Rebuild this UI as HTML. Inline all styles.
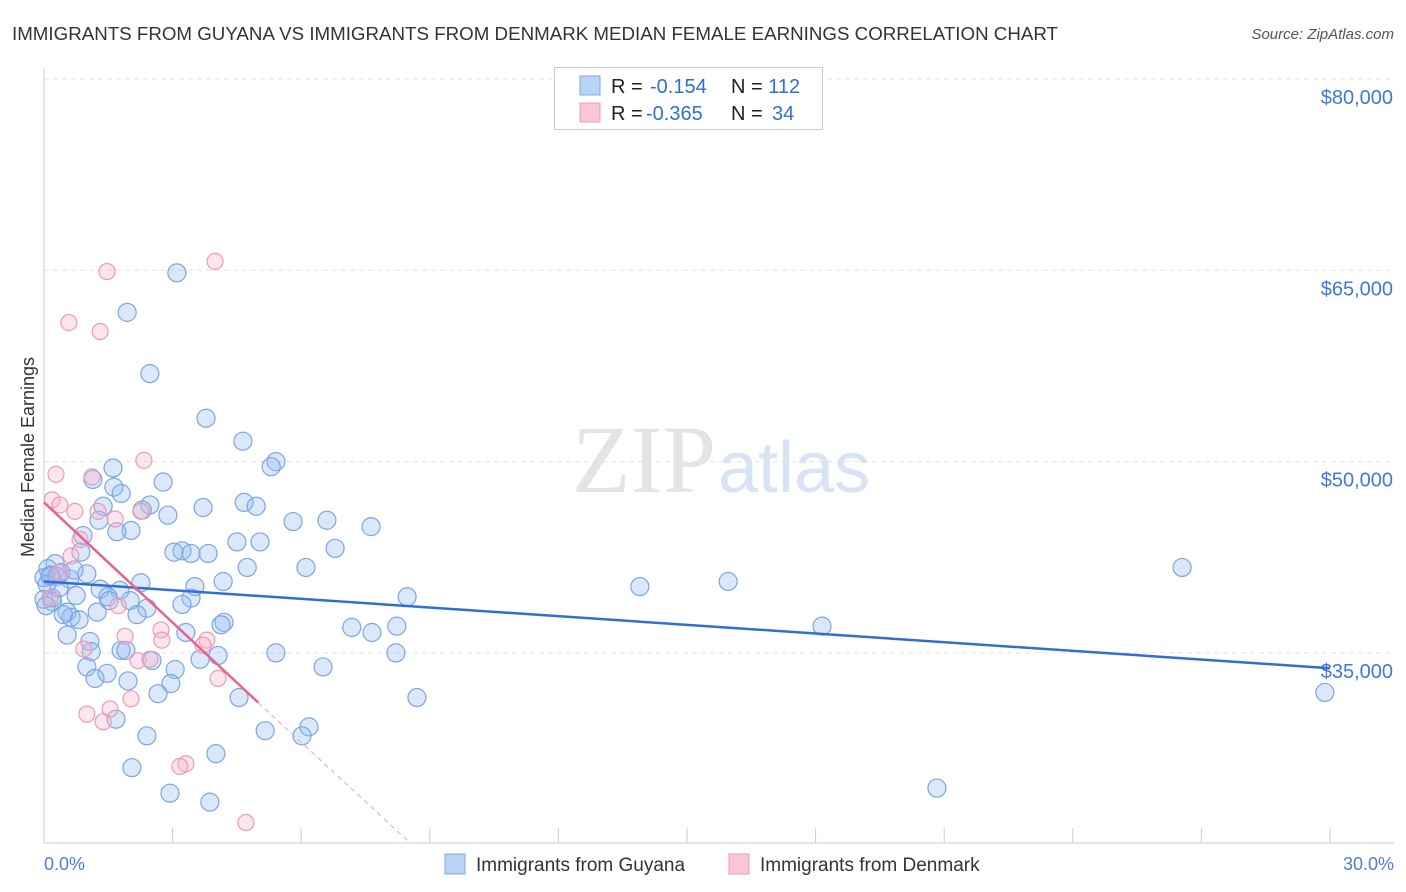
<!DOCTYPE html>
<html><head><meta charset="utf-8">
<style>
body{margin:0;background:#fff;font-family:"Liberation Sans",sans-serif;}
svg{display:block}
</style></head>
<body>
<svg id="chart" width="1406" height="892">
<text x="12" y="40" font-size="18" fill="#333" textLength="1046" lengthAdjust="spacingAndGlyphs">IMMIGRANTS FROM GUYANA VS IMMIGRANTS FROM DENMARK MEDIAN FEMALE EARNINGS CORRELATION CHART</text>
<text x="1394" y="39" font-size="15" fill="#555" font-style="italic" text-anchor="end">Source: ZipAtlas.com</text>
<text x="716" y="492" font-size="96" fill="#e4e4e4" text-anchor="end" font-family="Liberation Serif,serif">ZIP</text>
<text x="718" y="492" font-size="72" fill="#d6e4f6">atlas</text>
<text transform="translate(34,457) rotate(-90)" font-size="18" fill="#333" text-anchor="middle">Median Female Earnings</text>
<g id="grid"></g><g id="marks"></g>
<g>
<rect x="554.5" y="67.5" width="268" height="62" fill="#fff" stroke="#ccc"/>
<rect x="580" y="76" width="20" height="19" fill="#b9d3f5" stroke="#7fa9e6"/>
<rect x="580" y="103" width="20" height="19" fill="#fac5d5" stroke="#ee9ab6"/>
<text x="611" y="93" font-size="20" fill="#222">R = <tspan x="650" fill="#2f6fd6">-0.154</tspan><tspan x="731">N = </tspan><tspan fill="#2f6fd6">112</tspan></text>
<text x="611" y="120" font-size="20" fill="#222">R = <tspan x="646" fill="#2f6fd6">-0.365</tspan><tspan x="731">N = </tspan><tspan x="772" fill="#2f6fd6">34</tspan></text>
</g>
<g>
<rect x="445" y="854" width="20" height="20" fill="#b9d3f5" stroke="#7fa9e6"/>
<text x="476" y="871" font-size="19" fill="#333">Immigrants from Guyana</text>
<rect x="729" y="854" width="20" height="20" fill="#fac5d5" stroke="#ee9ab6"/>
<text x="760" y="871" font-size="19" fill="#333">Immigrants from Denmark</text>
</g>
<text x="44" y="870" font-size="18" fill="#4a7fd6">0.0%</text>
<text x="1394" y="870" font-size="18" fill="#4a7fd6" text-anchor="end">30.0%</text>
</svg>
<script>
const yTicks=[35000,50000,65000,80000];
const yTickLabels=["$35,000","$50,000","$65,000","$80,000"];
const xTicks=[0,3,6,9,12,15,18,21,24,27,30];
const guyanaX=[3.10,1.94,2.47,3.78,4.64,5.41,5.30,1.61,2.78,1.14,1.63,1.80,1.38,2.47,2.29,3.71,4.67,4.95,2.89,1.28,5.81,6.60,7.63,2.03,1.70,0.91,4.50,5.04,6.79,3.22,3.03,3.43,3.83,0.86,0.26,0.09,0.40,4.74,6.11,0,4.18,0.14,2.26,1.31,1.77,3.52,0.75,1.49,3.43,8.47,13.90,15.96,26.55,2.01,1.52,0.19,3.22,2.40,0.54,1.24,0.63,2.17,4.20,4.13,0.82,7.18,7.65,8.23,18.15,3.31,0.54,1.07,1.80,1.91,1.10,4.06,5.41,3.64,8.21,2.52,1.00,6.51,3.06,1.47,1.19,1.96,2.96,2.66,4.55,8.70,29.88,1.68,6.18,5.16,6.02,2.40,4.01,2.05,2.94,3.87,20.83,0,0.07,0.3,0.6,1.0,0.2,0.45,0.7,0.05,0.35,0.15];
const guyanaY=[64.8,61.7,56.9,53.4,51.6,50.0,49.6,49.5,48.4,48.6,48.0,47.5,46.5,46.6,46.2,46.4,46.8,46.5,45.8,45.4,45.3,45.4,44.9,44.6,44.5,44.2,43.7,43.7,43.2,43.0,42.9,42.8,42.8,42.9,42.0,41.6,41.3,41.7,41.7,40.9,40.6,41.0,40.5,40.0,39.9,40.2,39.5,39.4,39.3,39.4,40.2,40.6,41.7,39.1,39.1,39.3,38.8,38.5,38.2,38.2,37.8,38.0,37.4,37.2,37.6,37.0,36.6,37.1,37.1,36.6,36.4,35.9,35.2,35.2,35.1,34.8,35.0,34.5,35.0,34.4,33.9,33.9,33.7,33.4,33.0,32.8,32.6,31.8,31.5,31.5,31.9,29.8,29.2,28.9,28.5,28.5,27.1,26.0,24.0,23.3,24.4,39.2,40.4,41.0,40.8,41.2,39.0,38.0,41.5,38.7,40.1,41.1];
const denmarkX=[3.99,1.47,0.58,1.31,2.33,0.28,1.12,0.19,0.37,0.72,1.26,1.66,2.26,0.84,0.63,0.37,1.73,1.89,2.73,2.75,3.80,3.71,0.93,2.19,2.47,4.06,1.00,1.54,1.38,2.03,3.31,3.17,4.71,0.14];
const denmarkY=[65.7,64.9,60.9,60.2,50.1,49.0,48.8,47.0,46.6,46.1,46.1,45.5,46.1,43.9,42.6,41.3,38.7,36.3,36.8,36.0,36.0,35.6,35.3,34.4,34.5,33.0,30.2,30.6,29.6,31.4,26.3,26.1,21.7,39.3];
const guyanaTrend=[[0,40.6],[30,33.8]];
const denmarkTrend=[[0,46.8],[5.0,31.1]];
const denmarkTrendExt=[[5.0,31.1],[8.54,20.1]];

const NS="http://www.w3.org/2000/svg";
const xS=v=>44+v/30*1286;
const yS=v=>79+(80-v)*191.3/15;
function mk(tag,attrs,parent){const e=document.createElementNS(NS,tag);for(const k in attrs)e.setAttribute(k,attrs[k]);parent.appendChild(e);return e;}
const grid=document.getElementById('grid'),marks=document.getElementById('marks');
yTicks.forEach((t,i)=>{
 const y=yS(t/1000);
 const l=mk('line',{x1:44,x2:1394,y1:y,y2:y,stroke:'#e2e2e2','stroke-dasharray':'5,4'},grid);
 
 
 const tx=mk('text',{x:1393,y:y+25,'font-size':20,fill:'#3f7ad6','text-anchor':'end'},grid);
 tx.textContent=yTickLabels[i];
 
 
});
const ax=mk('line',{x1:44,x2:44,y1:68,y2:843,stroke:'#ccc'},grid);


const bx=mk('line',{x1:44,x2:1394,y1:843,y2:843,stroke:'#ccc'},grid);


xTicks.forEach(t=>{
 const x=xS(t);
 const l=mk('line',{x1:x,x2:x,y1:828,y2:843,stroke:'#ccc'},grid);
 
 
});
guyanaX.forEach((v,i)=>{
 const c=mk('circle',{cx:xS(v),cy:yS(guyanaY[i]),r:9,fill:'rgba(150,190,240,0.35)',stroke:'#7aa6e4','stroke-width':1.2},marks);
 
 
});
denmarkX.forEach((v,i)=>{
 const c=mk('circle',{cx:xS(v),cy:yS(denmarkY[i]),r:8,fill:'rgba(248,180,200,0.35)',stroke:'#ee9ab6','stroke-width':1.2},marks);
 
 
});
const gl=mk('line',{x1:xS(guyanaTrend[0][0]),y1:yS(guyanaTrend[0][1]),x2:xS(guyanaTrend[1][0]),y2:yS(guyanaTrend[1][1]),stroke:'#2f6fd6','stroke-width':2.5},marks);


const dl=mk('line',{x1:xS(denmarkTrend[0][0]),y1:yS(denmarkTrend[0][1]),x2:xS(denmarkTrend[1][0]),y2:yS(denmarkTrend[1][1]),stroke:'#e8628f','stroke-width':2.5},marks);


const de=mk('line',{x1:xS(denmarkTrendExt[0][0]),y1:yS(denmarkTrendExt[0][1]),x2:xS(denmarkTrendExt[1][0]),y2:yS(denmarkTrendExt[1][1]),stroke:'#f0a0bb','stroke-width':1,'stroke-dasharray':'5,4'},marks);


</script>
</body></html>
